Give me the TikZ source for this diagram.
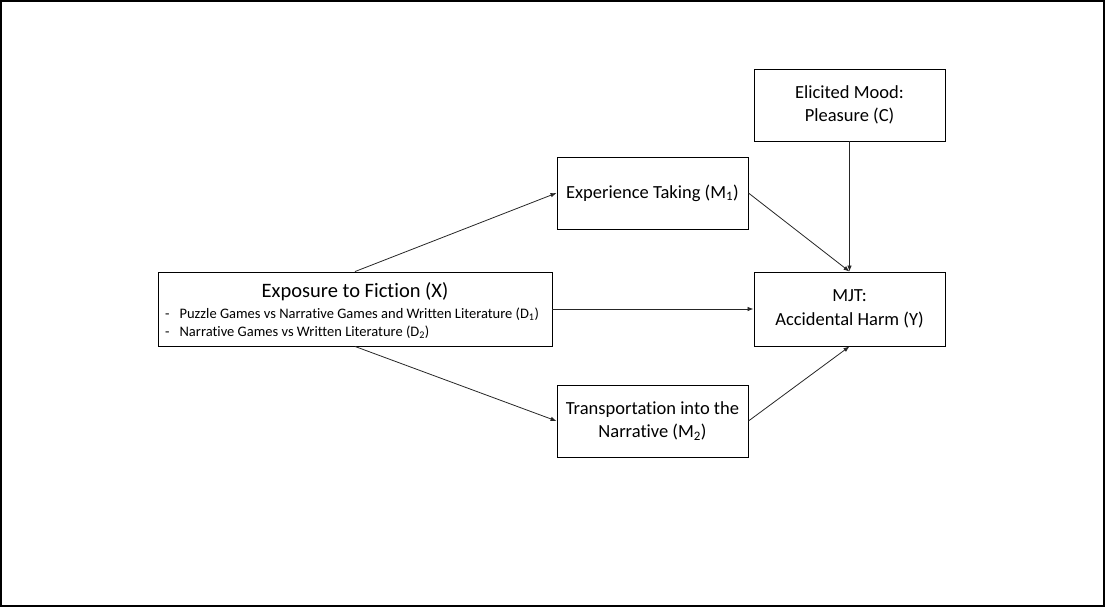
\documentclass[tikz,border=0pt]{standalone}
\usepackage{fontspec}
\setmainfont{Carlito}[Ligatures={NoCommon}]
\usetikzlibrary{arrows.meta}
\begin{document}
\begin{tikzpicture}[x=1pt,y=-1pt,
  box/.style={draw=black, line width=0.9pt, rectangle, inner sep=0pt, align=center, font=\fontsize{18.5}{23.5}\selectfont},
  conn/.style={draw=black!85, line width=0.8pt, -{Latex[length=6pt,width=4.5pt]}},
  small/.style={inner sep=0pt, anchor=west, font=\fontsize{14.5}{17}\selectfont}]
\useasboundingbox (0,0) rectangle (1105,608);
\draw[line width=2pt] (1,1) rectangle (1104,606);
\node[box, minimum width=394, minimum height=74] (X) at (355,309) {};
\node[inner sep=0pt, font=\fontsize{20.5}{24}\selectfont] (Xt) at (355,292) {Exposure to Fiction (X)};
\node[small] (Xa) at (165,314) {-\hspace{10pt}Puzzle Games vs Narrative Games and Written Literature (D\textsubscript{1})};
\node[small] (Xb) at (165,332) {-\hspace{10pt}Narrative Games vs Written Literature (D\textsubscript{2})};
\node[box, minimum width=191, minimum height=72] (M1) at (652.5,193) {Experience Taking (M\textsubscript{1})};
\node[box, minimum width=191, minimum height=72] (C) at (849.5,105) {Elicited Mood:\\Pleasure (C)};
\node[box, minimum width=191, minimum height=74] (Y) at (849.5,309) {MJT:\\Accidental Harm (Y)};
\node[box, minimum width=191, minimum height=72] (M2) at (652.5,421) {Transportation into the\\Narrative (M\textsubscript{2})};
\draw[conn] (X.north) -- (M1.west);
\draw[conn] (X.east) -- (Y.west);
\draw[conn] (X.south) -- (M2.west);
\draw[conn] (M1.east) -- (Y.north);
\draw[conn] (C.south) -- (Y.north);
\draw[conn] (M2.east) -- (Y.south);
\end{tikzpicture}
\end{document}
